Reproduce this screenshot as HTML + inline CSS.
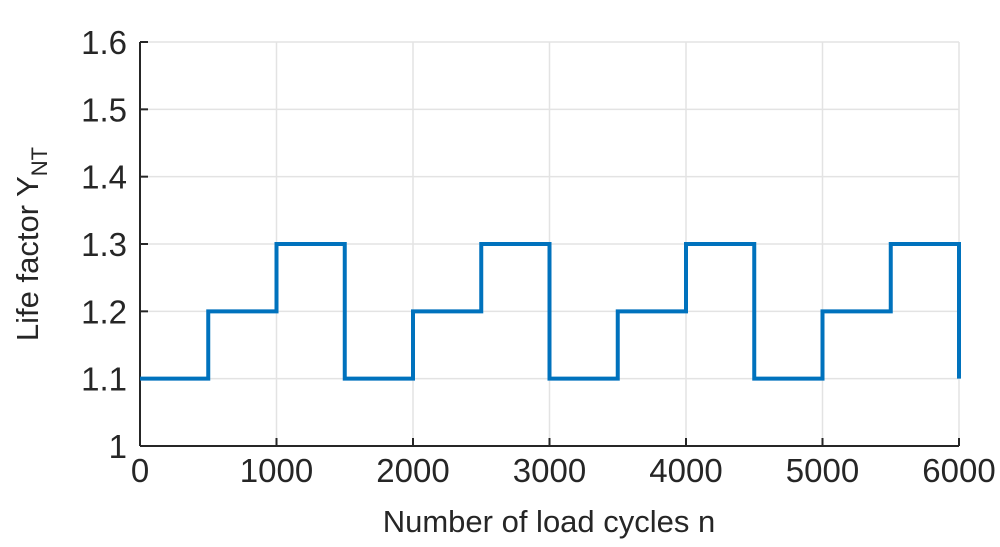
<!DOCTYPE html>
<html><head><meta charset="utf-8"><style>
body{margin:0;background:#fff;}
svg text{font-family:"Liberation Sans",Arial,sans-serif;fill:#262626;}
</style></head><body>
<svg id="chart" width="1000" height="542" viewBox="0 0 1000 542" xmlns="http://www.w3.org/2000/svg"></svg>
<script>
const xTicks=[0,1000,2000,3000,4000,5000,6000];
const yTicks=[1,1.1,1.2,1.3,1.4,1.5,1.6];
const yTickLabels=["1","1.1","1.2","1.3","1.4","1.5","1.6"];
const stepStarts=[0,500,1000,1500,2000,2500,3000,3500,4000,4500,5000,5500];
const stepValues=[1.1,1.2,1.3,1.1,1.2,1.3,1.1,1.2,1.3,1.1,1.2,1.3];
const endPoint=[6000,1.1];
const L=140,R=959,T=42,B=446;
const xs=v=>L+(v-0)/(6000-0)*(R-L);
const ys=v=>B-(v-1)/(1.6-1)*(B-T);
const svg=document.getElementById('chart');
const NS='http://www.w3.org/2000/svg';
function mk(tag,attrs,parent){const e=document.createElementNS(NS,tag);for(const k in attrs)e.setAttribute(k,attrs[k]);(parent||svg).appendChild(e);return e;}
const grid=mk('g',{});


xTicks.forEach(t=>{const l=mk('line',{x1:xs(t),x2:xs(t),y1:T,y2:B,stroke:'#e3e3e3','stroke-width':1.5},grid);

});
yTicks.forEach(t=>{const l=mk('line',{x1:L,x2:R,y1:ys(t),y2:ys(t),stroke:'#e3e3e3','stroke-width':1.5},grid);

});
const ax=mk('g',{});


mk('line',{x1:L,x2:L,y1:T,y2:B,stroke:'#262626','stroke-width':2},ax);
mk('line',{x1:L,x2:R,y1:B,y2:B,stroke:'#262626','stroke-width':2},ax);
xTicks.forEach(t=>{mk('line',{x1:xs(t),x2:xs(t),y1:B,y2:B-8,stroke:'#262626','stroke-width':2},ax);
const tx=mk('text',{x:xs(t),y:B+36,'text-anchor':'middle','font-size':33},ax);tx.textContent=t;

});
yTicks.forEach((t,i)=>{mk('line',{x1:L,x2:L+8,y1:ys(t),y2:ys(t),stroke:'#262626','stroke-width':2},ax);
const tx=mk('text',{x:L-13,y:ys(t)+12,'text-anchor':'end','font-size':33},ax);tx.textContent=yTickLabels[i];

});
const xt=mk('text',{x:549,y:532,'text-anchor':'middle','font-size':31});
xt.textContent='Number of load cycles n';


const yt=mk('text',{transform:'translate(38,244) rotate(-90)','text-anchor':'middle','font-size':31});
yt.innerHTML='Life factor Y<tspan font-size="22" dy="9">NT</tspan>';


let d='';
stepStarts.forEach((s,i)=>{const e=i+1<stepStarts.length?stepStarts[i+1]:endPoint[0];
d+=(i===0?'M':'L')+xs(s)+','+ys(stepValues[i])+' L'+xs(e)+','+ys(stepValues[i])+' ';});
d+='L'+xs(endPoint[0])+','+ys(endPoint[1]);
const p=mk('path',{d:d,fill:'none',stroke:'#0072BD','stroke-width':4});


</script>
</body></html>
